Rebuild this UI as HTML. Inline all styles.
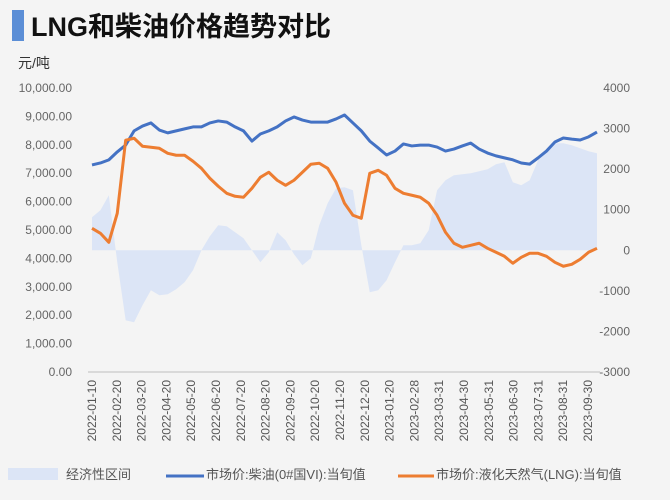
<!DOCTYPE html>
<html><head><meta charset="utf-8"><style>
body{margin:0;background:#f4f4f4;width:670px;height:495px;overflow:hidden;font-family:"Liberation Sans","Noto Sans CJK SC",sans-serif;}
</style></head><body>
<svg width="670" height="495" xmlns="http://www.w3.org/2000/svg">
<rect x="0" y="0" width="670" height="495" fill="#f4f4f4"/>
<rect x="12" y="10" width="12" height="31" fill="#5b8ed6"/>
<text x="31" y="36" font-size="27" font-weight="bold" fill="#111" font-family="Liberation Sans, Noto Sans CJK SC, sans-serif">LNG和柴油价格趋势对比</text>
<text x="18" y="68" font-size="14" fill="#333" font-family="Liberation Sans, Noto Sans CJK SC, sans-serif">元/吨</text>
<g id="leftTicks"></g><g id="rightTicks"></g>
<g id="area"></g>
<line x1="88" y1="372" x2="600" y2="372" stroke="#d0d0d0" stroke-width="1.5"/>
<g id="lines"></g>
<g id="xTicks"></g>
<g font-size="13" fill="#555" font-family="Liberation Sans, Noto Sans CJK SC, sans-serif">
<rect x="8" y="468" width="50" height="12" fill="#dce5f6"/>
<text x="66" y="479">经济性区间</text>
<line x1="166" y1="476" x2="204" y2="476" stroke="#4472c4" stroke-width="3"/>
<text x="206" y="479">市场价:柴油(0#国VI):当旬值</text>
<line x1="398" y1="476" x2="434" y2="476" stroke="#ed7d31" stroke-width="3"/>
<text x="436" y="479">市场价:液化天然气(LNG):当旬值</text>
</g>
</svg>
<script>
const xLabels=["2022-01-10","2022-02-20","2022-03-20","2022-04-20","2022-05-20","2022-06-20","2022-07-20","2022-08-20","2022-09-20","2022-10-20","2022-11-20","2022-12-20","2023-01-20","2023-02-28","2023-03-31","2023-04-30","2023-05-31","2023-06-30","2023-07-31","2023-08-31","2023-09-30"];
const leftTicks=[0,1000,2000,3000,4000,5000,6000,7000,8000,9000,10000];
const rightTicks=[-3000,-2000,-1000,0,1000,2000,3000,4000];
const diesel=[7290,7360,7470,7750,7990,8490,8660,8770,8520,8420,8490,8560,8630,8630,8770,8840,8800,8630,8490,8130,8380,8490,8630,8840,8980,8870,8800,8800,8800,8910,9050,8770,8490,8130,7890,7640,7780,8030,7960,7990,7990,7920,7780,7850,7960,8060,7850,7710,7610,7540,7470,7360,7320,7540,7780,8100,8240,8200,8170,8280,8450];
const lng=[542,419,197,912,2712,2761,2564,2539,2514,2391,2342,2342,2194,2021,1775,1578,1405,1331,1307,1528,1799,1923,1726,1602,1726,1923,2120,2145,2021,1676,1159,863,789,1898,1972,1849,1528,1405,1356,1307,1159,863,444,173,74,123,173,49,-49,-148,-320,-173,-74,-74,-148,-296,-394,-345,-222,-49,49];
const econ=[813,986,1356,-296,-1726,-1775,-1356,-986,-1109,-1085,-961,-789,-493,0,345,616,592,444,296,0,-296,-49,444,247,-99,-370,-197,616,1159,1528,1553,1479,123,-1035,-986,-740,-296,123,123,173,493,1479,1726,1849,1873,1898,1947,1997,2120,2169,1676,1602,1726,2219,2465,2638,2638,2588,2514,2440,2391];
const NS="http://www.w3.org/2000/svg";
const X0=92,X1=597,YT=88,YB=372;
const xs=i=>X0+i*(X1-X0)/(diesel.length-1);
const yL=v=>YB-(v/10000)*(YB-YT);
const yR=v=>YB-((v+3000)/7000)*(YB-YT);
function mk(tag,attrs,parent){const e=document.createElementNS(NS,tag);for(const k in attrs)e.setAttribute(k,attrs[k]);parent.appendChild(e);return e;}
const lt=document.getElementById('leftTicks');
leftTicks.forEach(v=>{const t=mk('text',{x:72,y:yL(v)+4,'text-anchor':'end','font-size':12,fill:'#666'},lt);


t.textContent=v.toLocaleString('en-US',{minimumFractionDigits:2});});
const rt=document.getElementById('rightTicks');
rightTicks.forEach(v=>{const t=mk('text',{x:630,y:yR(v)+4,'text-anchor':'end','font-size':12,fill:'#666'},rt);


t.textContent=String(v);});
const xt=document.getElementById('xTicks');
xLabels.forEach((s,i)=>{const x=92+i*(588-92)/(xLabels.length-1);const t=mk('text',{x:0,y:0,'text-anchor':'end','font-size':12,fill:'#555',transform:`translate(${x+4},380) rotate(-90)`},xt);


t.textContent=s;});
let d=`M${xs(0)},${yR(0)}`;econ.forEach((v,i)=>{d+=` L${xs(i)},${yR(v)}`;});d+=` L${xs(econ.length-1)},${yR(0)} Z`;
const ar=mk('path',{d:d,fill:'#dce5f6'},document.getElementById('area'));


const lg=document.getElementById('lines');
const pd=mk('polyline',{points:diesel.map((v,i)=>xs(i)+','+yL(v)).join(' '),fill:'none',stroke:'#4472c4','stroke-width':3,'stroke-linejoin':'round'},lg);


const pl=mk('polyline',{points:lng.map((v,i)=>xs(i)+','+yR(v)).join(' '),fill:'none',stroke:'#ed7d31','stroke-width':3,'stroke-linejoin':'round'},lg);


</script>
</body></html>
